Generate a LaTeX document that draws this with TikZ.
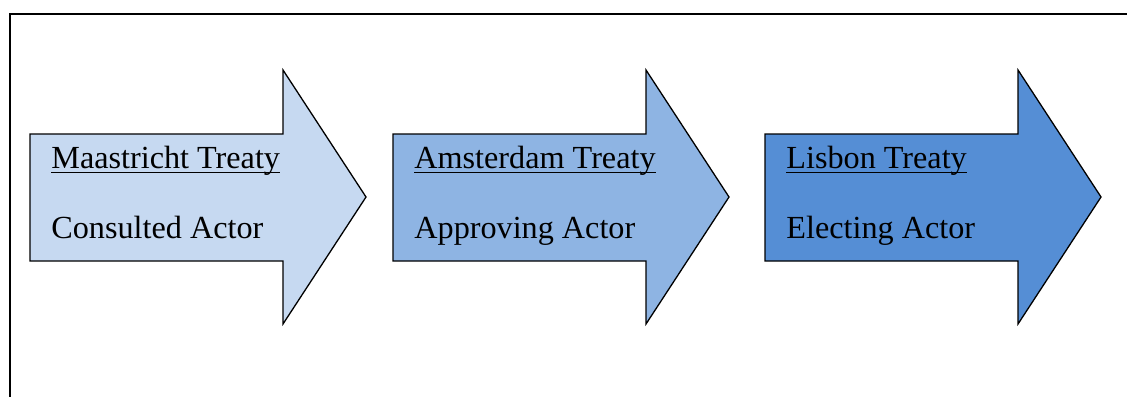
\documentclass[tikz,border=0pt]{standalone}
\usepackage{fontspec}
\setmainfont{Liberation Serif}
\newcommand\myul[1]{\setbox0\hbox{#1}\rlap{\rule[-2.6pt]{\wd0}{0.75pt}}\box0}
\definecolor{aone}{HTML}{C6D9F1}
\definecolor{atwo}{HTML}{8EB4E3}
\definecolor{athree}{HTML}{558ED5}
\tikzset{
  arrowshape/.style={draw=black, line width=0.65pt, line join=miter},
  lbl/.style={anchor=base west, inner sep=0pt, font=\fontsize{16.1}{19}\selectfont},
}
\begin{document}
\begin{tikzpicture}[x=0.5pt,y=-0.5pt]
\useasboundingbox (0,0) rectangle (1127,396);
% frame
\draw[line width=1pt] (10,400) -- (10,13.5) -- (1130,13.5);
% arrows
\foreach \L/\c in {30/aone,393/atwo,765/athree}{
  \fill[\c] (\L,134) -- (\L+253,134) -- (\L+253,70) -- (\L+336,197) -- (\L+253,324) -- (\L+253,261) -- (\L,261) -- cycle;
  \draw[arrowshape] (\L,134) -- (\L+253,134) -- (\L+253,70) -- (\L+336,197) -- (\L+253,324) -- (\L+253,261) -- (\L,261) -- cycle;
}
\node[lbl] (t1) at (51,168) {\myul{Maastricht Treaty}};
\node[lbl] (a1) at (51,238) {Consulted Actor};
\node[lbl] (t2) at (414,168) {\myul{Amsterdam Treaty}};
\node[lbl] (a2) at (414,238) {Approving Actor};
\node[lbl] (t3) at (786,168) {\myul{Lisbon Treaty}};
\node[lbl] (a3) at (786,238) {Electing Actor};
\end{tikzpicture}
\end{document}
